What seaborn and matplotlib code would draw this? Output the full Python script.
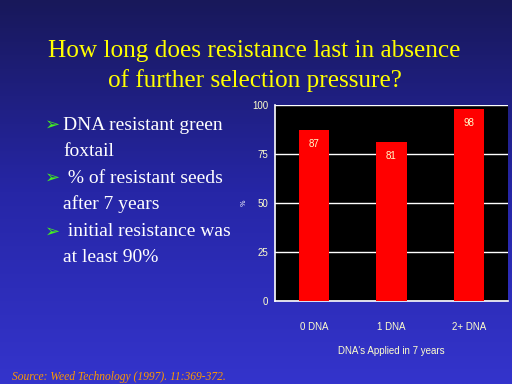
import numpy as np
import pandas as pd
import matplotlib
matplotlib.use("Agg")
import matplotlib.pyplot as plt
from matplotlib.colors import LinearSegmentedColormap
import seaborn as sns

categories = ["0 DNA", "1 DNA", "2+ DNA"]
values = [87, 81, 98]
yticks = [0, 25, 50, 75, 100]
title_lines = ["How long does resistance last in absence", "of further selection pressure?"]
bullets = [["DNA resistant green", "foxtail"],
           [" % of resistant seeds", "after 7 years"],
           [" initial resistance was", "at least 90%"]]
xlabel = "DNA's Applied in 7 years"
source = "Source: Weed Technology (1997). 11:369-372."

sns.set_theme(style="white")
plt.rcParams['font.family'] = ['DejaVu Sans']

fig = plt.figure(figsize=(5.12, 3.84), dpi=100)

# background gradient
bg = fig.add_axes([0, 0, 1, 1], zorder=0)
cmap = LinearSegmentedColormap.from_list("bg", ["#18185a", "#2626a6", "#3434cc"])
grad = np.linspace(0, 1, 256).reshape(-1, 1)
bg.imshow(grad, aspect="auto", cmap=cmap, extent=[0, 1, 0, 1], origin="upper")
bg.set_axis_off()

# title
fig.text(0.497, 1 - 51 / 384, title_lines[0], ha="center", va="center", color="#ffff00",
         family="Liberation Serif", fontsize=18.2)
fig.text(0.497, 1 - 81 / 384, title_lines[1], ha="center", va="center", color="#ffff00",
         family="Liberation Serif", fontsize=18.2)

# bullets
ys = [(125, 152), (178, 204), (232, 257)]
for (l1, l2), (y1, y2) in zip(bullets, ys):
    fig.text(45 / 512, 1 - y1 / 384, "➢", ha="left", va="center", color="#44ee22",
             family="DejaVu Sans", fontsize=13)
    fig.text(63 / 512, 1 - y1 / 384, l1, ha="left", va="center", color="white",
             family="Liberation Serif", fontsize=14)
    fig.text(63 / 512, 1 - y2 / 384, l2, ha="left", va="center", color="white",
             family="Liberation Serif", fontsize=14)

# source
fig.text(12 / 512, 1 - 377 / 384, source, ha="left", va="center", color="#ff9900",
         family="Liberation Serif", style="italic", fontsize=8.3)

# chart
ax = fig.add_axes([275 / 512, 83 / 384, 233 / 512, 196 / 384], zorder=2)
df = pd.DataFrame({"cat": categories, "val": values})
sns.barplot(data=df, x="cat", y="val", color="#ff0000", saturation=1, width=0.39,
            linewidth=0, ax=ax, zorder=3)
ax.set_facecolor("black")
ax.set_ylim(0, 100)
ax.set_xlim(-0.5, 2.5)
ax.set_yticks(yticks)
ax.set_yticklabels([str(t) for t in yticks], color="#ffffcc", fontsize=7,
                   family="Liberation Sans")
ax.yaxis.grid(True, color="white", linewidth=1)
ax.set_axisbelow(True)
ax.set_xticks([0, 1, 2])
ax.set_xticklabels(categories, color="#ffffcc", fontsize=7, family="Liberation Sans")
ax.set_xticks([0.5, 1.5], minor=True)
ax.tick_params(axis="x", which="major", length=0, pad=15)
ax.tick_params(axis="x", which="minor", length=4, color="white", direction="in")
ax.tick_params(axis="y", length=3, color="white", direction="out", pad=2)
for s in ["top", "right"]:
    ax.spines[s].set_visible(False)
for s in ["left", "bottom"]:
    ax.spines[s].set_color("white")
    ax.spines[s].set_linewidth(1.2)
ax.set_xlabel(xlabel, color="#ffffcc", fontsize=7, family="Liberation Sans", labelpad=10)
ax.set_ylabel("%", color="white", fontsize=5, labelpad=4, rotation=90)
for p, v in zip(ax.patches, values):
    ax.text(p.get_x() + p.get_width() / 2, v - 7, str(v), ha="center", va="center",
            color="#ffffcc", fontsize=7, family="Liberation Sans", zorder=4)

fig.savefig("out.png", dpi=100)
